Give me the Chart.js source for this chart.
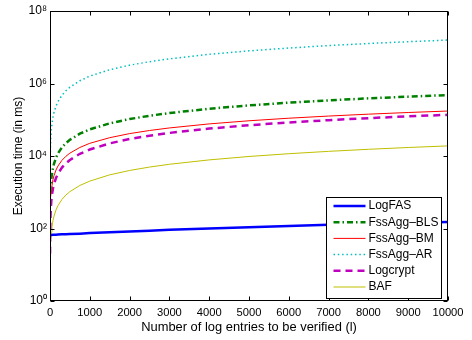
<!DOCTYPE html>
<html>
<head>
<meta charset="utf-8">
<script src="https://cdn.jsdelivr.net/npm/chart.js@4.4.0/dist/chart.umd.min.js"></script>
<style>
  html, body { margin: 0; padding: 0; background: #fff; }
  #myChart { display: block; }
</style>
</head>
<body>
<canvas id="myChart" width="472" height="340"></canvas>
<script>
// number of log entries (x values)
var entries = [1, 2, 5, 10, 20, 35, 50, 75, 100, 150, 200, 300, 400, 500, 750, 1000, 1500, 2000, 2500, 3000, 4000, 5000, 6000, 7000, 8000, 9000, 10000];

// execution time in ms, one list per scheme
var logFAS    = [66, 66, 66, 66, 66, 66, 66, 67, 67, 67, 68, 69, 69, 70, 72, 75, 79, 83, 87, 92, 100, 109, 117, 126, 134, 143, 151];
var fssAggBLS = [1000, 1050, 1150, 1300, 1700, 2400, 3200, 4640, 6100, 8950, 11760, 17280, 22700, 28000, 41200, 54100, 79500, 104500, 129000, 153000, 201000, 249000, 296000, 342000, 389000, 434000, 480000];
var fssAggBM  = [20, 87, 197, 364, 675, 1110, 1540, 2220, 2850, 4090, 5290, 7600, 9830, 12000, 17200, 22400, 32000, 41500, 50500, 59400, 76800, 93700, 110300, 126500, 142600, 158400, 174000];
var fssAggAR  = [2500, 3200, 8000, 16000, 32000, 55000, 79000, 118000, 158000, 237000, 316000, 474000, 632000, 790000, 1190000, 1600000, 2400000, 3200000, 4000000, 4800000, 6400000, 7950000, 9500000, 11100000, 12700000, 14200000, 15800000];
var logcrypt  = [20, 40, 95, 184, 358, 611, 860, 1270, 1670, 2460, 3240, 4780, 6290, 7790, 11500, 15100, 22300, 29400, 36300, 43300, 57000, 70600, 84000, 97400, 110700, 123800, 137000];
var baf       = [2.5, 4.9, 12, 23, 46, 79, 111, 165, 218, 323, 427, 633, 838, 1040, 1540, 2030, 3020, 3990, 4950, 5910, 7810, 9700, 11570, 13440, 15300, 17160, 19000];

var xTicks = [0, 1000, 2000, 3000, 4000, 5000, 6000, 7000, 8000, 9000, 10000];
var yTicks = [1, 1e2, 1e4, 1e6, 1e8];
var yTickLabels = ['10\u2070', '10\u00b2', '10\u2074', '10\u2076', '10\u2078'];

var FONT = '"Liberation Sans", Arial, Helvetica, sans-serif';

function points(ys) {
    return entries.map(function (x, i) { return {x: x, y: ys[i]}; });
}

// box round the axes with inward ticks, like matlab
var framePlugin = {
    id: 'frame',
    afterDatasetsDraw: function (chart) {
        var ctx = chart.ctx, a = chart.chartArea;
        var xs = chart.scales.x, ys = chart.scales.y;
        var L = Math.round(a.left) + 0.5, R = Math.round(a.right) - 0.5;
        var T = Math.round(a.top) + 0.5, B = Math.round(a.bottom) - 0.5;
        ctx.save();
        ctx.strokeStyle = '#000';
        ctx.lineWidth = 1;
        ctx.beginPath();
        xTicks.forEach(function (v) {
            var px = Math.round(xs.getPixelForValue(v)) + 0.5;
            ctx.moveTo(px, B); ctx.lineTo(px, B - 4);
            ctx.moveTo(px, T); ctx.lineTo(px, T + 4);
        });
        yTicks.forEach(function (v) {
            var py = Math.round(ys.getPixelForValue(v)) + 0.5;
            ctx.moveTo(L, py); ctx.lineTo(L + 4, py);
            ctx.moveTo(R, py); ctx.lineTo(R - 4, py);
        });
        ctx.stroke();
        ctx.strokeRect(L, T, R - L, B - T);
        ctx.restore();
    }
};

// legend drawn inside the plot, bottom right
var legendPlugin = {
    id: 'insideLegend',
    afterDraw: function (chart) {
        var ctx = chart.ctx, a = chart.chartArea;
        var w = 115, h = 101;
        var bx = Math.round(a.right) - 7 - w + 0.5;
        var by = Math.round(a.bottom) - 3 - h + 0.5;
        ctx.save();
        ctx.fillStyle = '#fff';
        ctx.fillRect(bx, by, w, h);
        ctx.strokeStyle = '#000';
        ctx.lineWidth = 1;
        ctx.strokeRect(bx, by, w, h);
        chart.data.datasets.forEach(function (ds, i) {
            var y = by + 8.5 + i * 16.2;
            ctx.save();
            ctx.strokeStyle = ds.borderColor;
            ctx.lineWidth = ds.borderWidth;
            ctx.setLineDash(ds.borderDash || []);
            ctx.beginPath();
            ctx.moveTo(bx + 7, y);
            ctx.lineTo(bx + 39, y);
            ctx.stroke();
            ctx.restore();
            ctx.fillStyle = '#000';
            ctx.font = '12px ' + FONT;
            ctx.textBaseline = 'middle';
            ctx.textAlign = 'left';
            ctx.fillText(ds.label, bx + 42, y);
        });
        ctx.restore();
    }
};

var chart = new Chart(document.getElementById('myChart').getContext('2d'), {
    type: 'line',
    data: {
        datasets: [{
            label: 'LogFAS',
            data: points(logFAS),
            borderColor: '#0000ff',
            borderWidth: 2.5
        }, {
            label: 'FssAgg\u2013BLS',
            data: points(fssAggBLS),
            borderColor: '#008000',
            borderWidth: 2.5,
            borderDash: [6, 3, 1.5, 3]
        }, {
            label: 'FssAgg\u2013BM',
            data: points(fssAggBM),
            borderColor: '#ff0000',
            borderWidth: 1
        }, {
            label: 'FssAgg\u2013AR',
            data: points(fssAggAR),
            borderColor: '#00bfbf',
            borderWidth: 1.5,
            borderDash: [1.5, 2.8]
        }, {
            label: 'Logcrypt',
            data: points(logcrypt),
            borderColor: '#bf00bf',
            borderWidth: 2.5,
            borderDash: [7, 5]
        }, {
            label: 'BAF',
            data: points(baf),
            borderColor: '#bfbf00',
            borderWidth: 1
        }]
    },
    options: {
        responsive: false,
        animation: false,
        devicePixelRatio: 1,
        layout: {
            padding: {top: 11, right: 24, left: 0, bottom: 0}
        },
        elements: {
            point: {radius: 0},
            line: {tension: 0, fill: false}
        },
        scales: {
            x: {
                type: 'linear',
                min: 0,
                max: 10000,
                grid: {display: false, drawTicks: false},
                border: {display: false},
                afterBuildTicks: function (scale) {
                    scale.ticks = xTicks.map(function (v) { return {value: v}; });
                },
                afterFit: function (scale) { scale.height = 39; },
                ticks: {
                    autoSkip: false,
                    maxRotation: 0,
                    padding: 5,
                    color: '#000',
                    font: {family: FONT, size: 11.2},
                    callback: function (value) { return String(value); }
                },
                title: {
                    display: true,
                    text: 'Number of log entries to be verified (l)',
                    color: '#000',
                    font: {family: FONT, size: 12.9},
                    padding: {top: 0, bottom: 5}
                }
            },
            y: {
                type: 'logarithmic',
                min: 1,
                max: 1e8,
                grid: {display: false, drawTicks: false},
                border: {display: false},
                afterBuildTicks: function (scale) {
                    scale.ticks = yTicks.map(function (v) { return {value: v}; });
                },
                afterFit: function (scale) { scale.width = 50; },
                ticks: {
                    padding: 3,
                    color: '#000',
                    font: {family: FONT, size: 12},
                    callback: function (value) {
                        var i = yTicks.indexOf(value);
                        return i >= 0 ? yTickLabels[i] : '';
                    }
                },
                title: {
                    display: true,
                    text: 'Execution time (in ms)',
                    color: '#000',
                    font: {family: FONT, size: 12},
                    padding: {top: 11, bottom: 0}
                }
            }
        },
        plugins: {
            legend: {display: false},
            tooltip: {enabled: false}
        }
    },
    plugins: [framePlugin, legendPlugin]
});
</script>
</body>
</html>
